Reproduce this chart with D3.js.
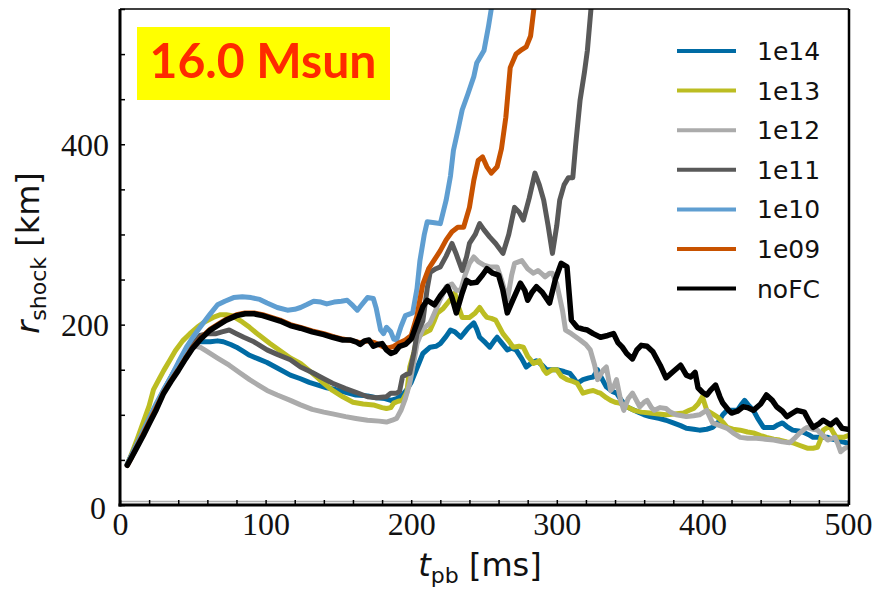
<!DOCTYPE html>
<html>
<head>
<meta charset="utf-8">
<script src="https://cdn.jsdelivr.net/npm/d3@7"></script>
<style>
  html, body { margin: 0; padding: 0; background: #fff; }
  svg { display: block; }
</style>
</head>
<body>
<svg id="chart" width="878" height="589"></svg>
<script>
// ---------------- DATA ----------------
const seriesNames = ["1e14", "1e13", "1e12", "1e11", "1e10", "1e09", "noFC"];
const seriesColors = ["#006BA4", "#BCBD22", "#ABABAB", "#595959", "#5F9ED1", "#C85200", "#000000"];
const xTicks = [0, 100, 200, 300, 400, 500];
const yTicks = [0, 200, 400];
const titleText = "16.0 Msun";

// [t_pb (ms), r_shock (km)]
const r1e14 = [[5,45],[10,62],[15,79],[20,95],[25,111],[30,127],[35,142],[40,156],[45,168],[50,177],[53,181],[58,181],[62,181],[67,182],[71,181],[76,178],[80,175],[85,170],[89,166],[95,162],[101,158],[108,152],[117,144],[124,140],[130,136],[136,133],[142,130],[148,128],[155,125],[162,122],[170,121],[176,119],[182,118],[186,116],[190,118],[194,122],[197,128],[200,136],[203,148],[206,160],[208,168],[213,175],[217,176],[220,179],[224,187],[227,194],[230,192],[234,186],[237,192],[239,196],[243,202],[245,195],[247,186],[251,180],[254,175],[257,182],[259,186],[262,180],[266,172],[269,174],[272,172],[276,162],[279,153],[283,158],[286,160],[290,155],[293,150],[297,150],[300,150],[305,148],[309,146],[312,140],[314,135],[318,139],[322,141],[325,142],[328,150],[331,140],[334,131],[338,126],[341,124],[344,117],[348,109],[352,106],[356,103],[360,100],[364,98],[370,96],[375,94],[380,91],[385,88],[389,85],[394,84],[398,83],[403,84],[407,86],[411,92],[414,100],[417,105],[421,105],[424,105],[427,112],[429,116],[432,110],[435,105],[438,96],[442,86],[446,86],[449,86],[452,89],[455,91],[458,87],[462,83],[466,82],[469,81],[473,78],[476,75],[481,75],[486,75],[489,73],[492,72],[496,70],[499,69]];

const r1e13 = [[5,45],[8,57],[12,74],[16,92],[20,110],[23,128],[27,140],[30,149],[34,160],[38,171],[43,182],[48,190],[53,197],[58,203],[64,208],[69,211],[73,211],[77,210],[80,207],[84,203],[89,197],[95,189],[103,179],[110,171],[117,163],[124,157],[130,149],[135,142],[140,135],[146,127],[153,120],[160,114],[167,112],[174,111],[180,108],[183,107],[186,108],[188,113],[191,115],[194,116],[197,125],[199,153],[202,170],[204,186],[208,190],[213,194],[216,205],[218,213],[222,218],[225,224],[228,230],[230,235],[232,222],[235,208],[240,208],[244,213],[247,219],[250,212],[252,208],[255,207],[258,205],[261,196],[263,190],[267,182],[270,175],[274,176],[277,175],[280,165],[284,157],[288,160],[291,150],[293,146],[297,150],[300,150],[303,143],[307,139],[311,137],[314,135],[318,124],[322,126],[325,127],[328,125],[330,124],[334,119],[337,116],[340,114],[343,113],[348,109],[353,105],[358,103],[364,102],[370,101],[375,100],[381,101],[387,102],[391,105],[394,107],[397,112],[400,120],[403,105],[407,101],[410,98],[414,92],[417,86],[421,84],[426,83],[431,81],[435,80],[440,77],[444,75],[449,73],[453,72],[458,70],[462,69],[467,66],[472,63],[476,63],[479,64],[481,72],[483,83],[486,86],[488,86],[490,80],[492,75],[495,75],[497,75],[500,77]];

const r1e12 = [[5,45],[10,62],[15,78],[20,94],[25,110],[30,126],[35,141],[40,155],[45,168],[48,175],[52,176],[55,175],[60,170],[67,163],[75,155],[82,147],[89,139],[95,133],[101,127],[108,122],[117,116],[124,111],[132,106],[140,103],[146,101],[155,98],[162,96],[170,94],[178,93],[183,92],[187,94],[190,96],[193,105],[196,118],[199,135],[202,160],[204,179],[208,195],[213,202],[216,213],[220,228],[224,242],[228,245],[231,238],[234,238],[237,255],[240,268],[243,275],[246,270],[250,266],[254,264],[259,264],[262,250],[266,227],[269,255],[271,268],[276,271],[280,262],[284,257],[287,260],[290,256],[292,253],[295,257],[297,257],[300,245],[302,230],[304,215],[306,194],[310,190],[316,183],[320,178],[323,172],[326,155],[328,139],[332,150],[334,153],[337,127],[339,131],[341,139],[344,115],[346,105],[349,118],[352,124],[355,115],[357,109],[360,114],[362,116],[365,108],[367,105],[371,108],[375,107],[378,103],[382,100],[386,99],[389,98],[394,99],[398,100],[401,103],[403,105],[405,98],[407,91],[412,88],[417,85],[421,80],[426,75],[431,74],[437,74],[443,73],[449,72],[455,70],[460,69],[464,75],[467,80],[470,84],[472,86],[476,84],[479,83],[483,77],[486,72],[489,74],[491,75],[493,68],[495,59],[497,62],[499,64]];

const r1e11 = [[5,45],[10,62],[15,78],[20,94],[25,110],[30,126],[35,140],[40,153],[45,166],[50,178],[55,188],[60,190],[66,190],[70,192],[75,194],[80,190],[85,186],[92,181],[96,177],[101,172],[108,167],[117,161],[124,153],[132,147],[140,140],[146,135],[155,129],[162,125],[170,120],[176,119],[183,120],[186,124],[190,124],[192,126],[194,142],[197,145],[199,146],[202,170],[204,190],[208,204],[211,240],[213,258],[217,262],[220,264],[224,276],[228,290],[231,278],[235,260],[238,275],[240,290],[244,300],[247,312],[250,305],[254,297],[258,290],[263,279],[267,300],[271,330],[274,325],[277,316],[281,340],[285,368],[288,355],[291,338],[294,310],[297,279],[300,310],[302,338],[305,355],[308,363],[311,363],[313,400],[316,449],[319,480],[321,504],[324,560],[326,600]];

const r1e10 = [[5,45],[10,62],[15,79],[20,96],[25,113],[30,128],[35,142],[40,158],[46,176],[50,186],[55,197],[62,212],[67,222],[72,226],[78,230],[84,231],[90,230],[96,228],[101,224],[108,219],[115,216],[120,217],[124,219],[128,222],[133,226],[138,225],[142,223],[147,225],[152,226],[156,227],[160,221],[163,216],[166,222],[170,230],[174,229],[176,218],[179,194],[181,190],[183,197],[186,192],[188,184],[190,183],[193,198],[196,210],[201,213],[204,240],[206,271],[209,300],[211,314],[216,313],[220,312],[224,338],[227,365],[229,393],[232,415],[235,438],[239,456],[243,475],[245,490],[250,504],[253,530],[256,560],[258,600]];

const r1e09 = [[5,44],[8,53],[12,66],[16,79],[20,92],[25,108],[30,125],[35,138],[40,150],[45,163],[50,175],[56,186],[62,195],[68,201],[73,206],[80,211],[86,213],[92,213],[98,211],[104,208],[110,205],[117,200],[124,197],[132,193],[140,190],[146,187],[153,184],[160,182],[165,180],[170,182],[175,180],[180,176],[184,174],[188,176],[192,180],[196,183],[200,188],[204,210],[208,245],[212,262],[216,272],[220,282],[224,294],[228,303],[232,308],[236,308],[240,330],[243,360],[246,382],[249,386],[252,375],[255,368],[259,375],[262,395],[265,430],[268,485],[272,500],[276,505],[279,508],[282,520],[285,560],[287,600]];

const rNoFC = [[5,44],[8,53],[12,65],[16,77],[20,90],[25,106],[30,124],[35,137],[40,149],[45,162],[50,174],[56,185],[62,194],[68,200],[73,205],[80,210],[86,212],[92,212],[98,210],[104,207],[110,204],[117,199],[124,196],[132,192],[140,189],[146,186],[153,183],[158,183],[162,181],[165,178],[168,182],[171,183],[174,176],[177,178],[180,179],[183,172],[186,168],[189,170],[192,176],[196,178],[200,184],[204,202],[208,220],[211,227],[216,222],[220,232],[225,242],[228,230],[231,213],[235,235],[238,249],[241,246],[245,247],[249,255],[252,262],[256,257],[260,255],[263,238],[266,213],[270,228],[275,246],[278,238],[280,227],[283,236],[286,242],[290,236],[295,224],[299,250],[303,268],[307,264],[310,205],[314,197],[318,195],[321,194],[325,190],[330,186],[335,188],[339,190],[342,180],[345,175],[348,168],[352,162],[355,172],[358,177],[362,176],[366,170],[371,155],[375,141],[380,148],[385,155],[389,144],[392,142],[395,147],[397,130],[400,125],[403,122],[406,128],[409,133],[412,120],[414,113],[418,105],[420,102],[424,104],[428,109],[431,108],[435,105],[440,112],[444,122],[448,116],[451,109],[455,104],[458,98],[462,102],[465,105],[470,103],[473,94],[476,86],[480,90],[483,94],[488,89],[492,94],[496,85],[500,84]];

const seriesData = [r1e14, r1e13, r1e12, r1e11, r1e10, r1e09, rNoFC];

// ---------------- LAYOUT ----------------
const svg = d3.select("#chart");
const L = 120, R = 848, T = 9, B = 505;
const x = d3.scaleLinear().domain([0, 500]).range([L, R]);
const y = d3.scaleLinear().domain([0, 550]).range([B, T]);

svg.append("defs").append("clipPath").attr("id", "clip")
  .append("rect").attr("x", L).attr("y", T).attr("width", R - L).attr("height", B - T);

// faint line just above the bottom spine
svg.append("line")
  .attr("x1", x(0)).attr("x2", x(500)).attr("y1", y(4)).attr("y2", y(4))
  .attr("stroke", "#b0b0b0").attr("stroke-width", 1.5);

// title box
svg.append("rect").attr("x", 137).attr("y", 27).attr("width", 253).attr("height", 73).attr("fill", "#FFFF00");
svg.append("text").attr("x", 263).attr("y", 78)
  .attr("text-anchor", "middle")
  .attr("font-family", "Lato, 'Open Sans', sans-serif")
  .attr("font-weight", 700).attr("font-size", 48)
  .attr("fill", "#FF2A00")
  .attr("textLength", 227).attr("lengthAdjust", "spacingAndGlyphs")
  .text(titleText);

// lines
const line = d3.line().x(d => x(d[0])).y(d => y(d[1])).curve(d3.curveLinear);
const g = svg.append("g").attr("clip-path", "url(#clip)");
seriesData.forEach((data, i) => {
  g.append("path").datum(data)
    .attr("d", line)
    .attr("fill", "none")
    .attr("stroke", seriesColors[i])
    .attr("stroke-width", i === 6 ? 5.5 : 5)
    .attr("stroke-linejoin", "round")
    .attr("stroke-linecap", "round");
});

// axes (ticks inward)
const xAxis = d3.axisBottom(x).tickValues(d3.range(0, 501, 20)).tickSizeInner(-5).tickSizeOuter(0)
  .tickFormat(d => xTicks.includes(d) ? d : "");
const yAxis = d3.axisLeft(y).tickValues(d3.range(0, 551, 50)).tickSizeInner(-5).tickSizeOuter(0)
  .tickFormat(d => yTicks.includes(d) ? d : "");

const gx = svg.append("g").attr("transform", `translate(0,${B})`).call(xAxis);
gx.select(".domain").remove();
gx.selectAll(".tick line").attr("stroke", "#000").attr("stroke-width", 1.5);
gx.selectAll(".tick text")
  .attr("y", 30).attr("dy", 0)
  .attr("font-family", "'Liberation Serif', serif").attr("font-size", 32).attr("fill", "#111");

const gy = svg.append("g").attr("transform", `translate(${L},0)`).call(yAxis);
gy.select(".domain").remove();
gy.selectAll(".tick line").attr("stroke", "#000").attr("stroke-width", 1.5);
gy.selectAll(".tick text")
  .attr("x", -11).attr("dy", "0.35em")
  .attr("font-family", "'Liberation Serif', serif").attr("font-size", 32).attr("fill", "#111");
gy.selectAll(".tick").filter(d => d === 0).select("text").attr("x", -14).attr("dy", "0.42em");

// spines
svg.append("line").attr("x1", L).attr("x2", L).attr("y1", T).attr("y2", B + 1.5).attr("stroke", "#000").attr("stroke-width", 3);
svg.append("line").attr("x1", L - 1.5).attr("x2", R + 1).attr("y1", B).attr("y2", B).attr("stroke", "#000").attr("stroke-width", 3);
svg.append("line").attr("x1", L).attr("x2", R + 1).attr("y1", T).attr("y2", T).attr("stroke", "#000").attr("stroke-width", 1.5);
svg.append("line").attr("x1", R + 1).attr("x2", R + 1).attr("y1", T).attr("y2", B).attr("stroke", "#000").attr("stroke-width", 2.5);

// axis titles
const xt = svg.append("text").attr("x", 480).attr("y", 576).attr("text-anchor", "middle")
  .attr("font-family", "'DejaVu Sans', sans-serif").attr("font-size", 32).attr("fill", "#111");
xt.append("tspan").attr("font-style", "italic").text("t");
xt.append("tspan").attr("font-size", 22).attr("dy", 7).text("pb");
xt.append("tspan").attr("dy", -7).text(" [ms]");

const yt = svg.append("text").attr("transform", "translate(39,253) rotate(-90)").attr("text-anchor", "middle")
  .attr("font-family", "'DejaVu Sans', sans-serif").attr("font-size", 32).attr("fill", "#111");
yt.append("tspan").attr("font-style", "italic").text("r");
yt.append("tspan").attr("font-size", 22).attr("dy", 7).text("shock");
yt.append("tspan").attr("dy", -7).text(" [km]");

// legend
const legendTop = 51, legendStep = 39.6;
seriesNames.forEach((name, i) => {
  const yy = legendTop + i * legendStep;
  svg.append("line").attr("x1", 677).attr("x2", 736).attr("y1", yy).attr("y2", yy)
    .attr("stroke", seriesColors[i]).attr("stroke-width", 4);
  svg.append("text").attr("x", 757).attr("y", yy).attr("dy", "0.36em")
    .attr("font-family", "'DejaVu Sans', sans-serif").attr("font-size", 25).attr("fill", "#111")
    .text(name);
});
</script>
</body>
</html>
